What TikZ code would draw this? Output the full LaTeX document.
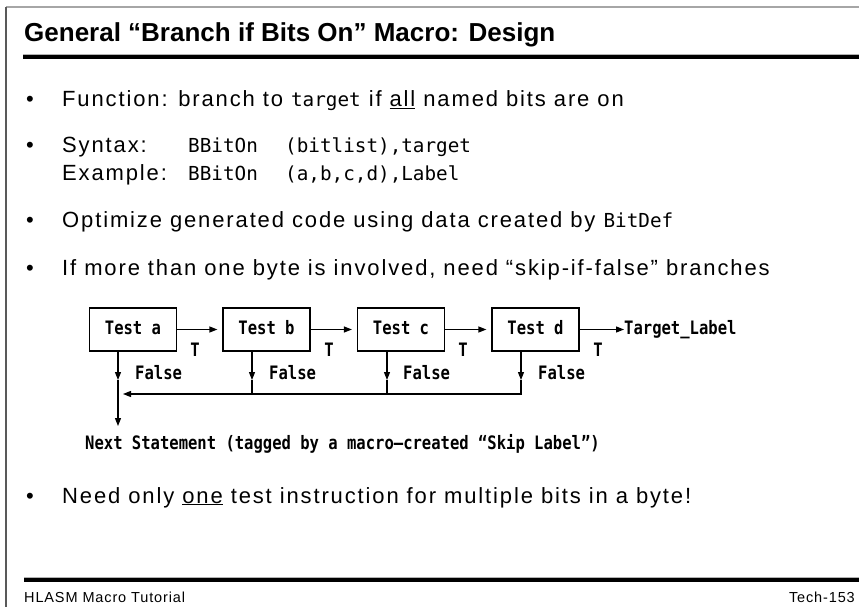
\documentclass[tikz,border=0pt]{standalone}
\usepackage{fontspec}
\setmainfont{Liberation Sans}
\newfontfamily\bodyfont[LetterSpace=8.5]{Liberation Sans}
\newfontfamily\footfont[LetterSpace=6]{Liberation Sans}
\newfontfamily\codefont{DejaVu Sans Mono}
\newfontfamily\diagfont[FakeStretch=0.84]{DejaVu Sans Mono}
\usetikzlibrary{arrows.meta,calc}
\newcommand\cd[1]{{\codefont\fontsize{19.3}{22}\selectfont #1}}
\tikzset{
  txt/.style={anchor=base west,inner sep=0pt,font=\bodyfont\fontsize{22}{26}\selectfont},
  bul/.style={anchor=base west,inner sep=0pt,font=\fontsize{22}{26}\selectfont},
  tbox/.style={draw,line width=1.2pt,minimum width=87pt,minimum height=43pt,inner sep=0pt,text height=13pt,text depth=4pt,font=\diagfont\bfseries\fontsize{18.5}{20}\selectfont},
  dlab/.style={inner sep=0pt,text height=13pt,text depth=4pt,font=\diagfont\bfseries\fontsize{18.5}{20}\selectfont},
  ln/.style={line width=1.2pt},
  arr/.style={line width=1.2pt,-{Triangle[length=8pt,width=6pt]}},
}
\begin{document}
\begin{tikzpicture}[x=1pt,y=-1pt]
\useasboundingbox (0,0) rectangle (859,607);
\fill[white] (0,0) rectangle (859,607);
% frame
\draw[gray!70,line width=1.5pt] (6,7) -- (859,7);
\draw[gray!70!black,line width=1.2pt] (6,7) -- (6,607);
% title
\node[anchor=base west,inner sep=0pt,font=\bfseries\fontsize{26}{30}\selectfont] (title) at (24,42) {General “Branch if Bits On” Macro: Design};
\fill[gray!60] (23,54) rectangle (859,55);
\fill[black] (23,55) rectangle (859,59.5);
% bullets
\node[bul] (b1) at (26,107) {•};
\node[txt] (l1) at (62,107) {Function: branch to \cd{target} if \underline{all} named bits are on};
\node[bul] (b2) at (26,153) {•};
\node[txt] (l2) at (62,153) {\makebox[126pt][l]{Syntax:}\makebox[97pt][l]{\cd{BBitOn}}\cd{(bitlist),target}};
\node[txt] (l3) at (62,180) {\makebox[126pt][l]{Example:}\makebox[97pt][l]{\cd{BBitOn}}\cd{(a,b,c,d),Label}};
\node[bul] (b3) at (26,227) {•};
\node[txt] (l4) at (62,227) {Optimize generated code using data created by \cd{BitDef}};
\node[bul] (b4) at (26,275) {•};
\node[txt] (l5) at (62,275) {If more than one byte is involved, need “skip-if-false” branches};
\node[bul] (b5) at (26,503) {•};
\node[txt] (l6) at (62,503) {Need only \underline{one} test instruction for multiple bits in a byte!};
% diagram
\node[tbox] (ta) at (133,329.5) {Test a};
\node[tbox] (tb) at (266.5,329.5) {Test b};
\node[tbox] (tc) at (401,329.5) {Test c};
\node[tbox] (td) at (535.5,329.5) {Test d};
\node[dlab,anchor=west] (tl) at (624,329.5) {Target\_Label};
\draw[arr,shorten >=5pt] (ta.east) -- (tb.west);
\draw[arr,shorten >=5pt] (tb.east) -- (tc.west);
\draw[arr,shorten >=5pt] (tc.east) -- (td.west);
\draw[arr] (td.east) -- (tl.west);
\node[dlab] (t1) at (195,352) {T};
\node[dlab] (t2) at (329,352) {T};
\node[dlab] (t3) at (463,352) {T};
\node[dlab] (t4) at (598,352) {T};
\node[dlab,anchor=west] (f1) at (135,375) {False};
\node[dlab,anchor=west] (f2) at (269,375) {False};
\node[dlab,anchor=west] (f3) at (403,375) {False};
\node[dlab,anchor=west] (f4) at (538,375) {False};
\node[dlab,anchor=base west] (ns) at (85,449) {Next Statement (tagged by a macro—created “Skip Label”)};
\coordinate (ja) at (118,380);
\coordinate (jb) at (252,380);
\coordinate (jc) at (387,380);
\coordinate (jd) at (521,380);
\coordinate (hb) at (252,394);
\coordinate (hc) at (387,394);
\coordinate (hd) at (521,394);
\coordinate (ha) at (123,394);
\coordinate (na) at (118,426);
\draw[arr] (ja |- ta.south) -- (ja);
\draw[arr] (jb |- tb.south) -- (jb);
\draw[arr] (jc |- tc.south) -- (jc);
\draw[arr] (jd |- td.south) -- (jd);
\draw[ln] (jb) -- (hb);
\draw[ln] (jc) -- (hc);
\draw[arr] (jd) -- (hd) -- (ha);
\draw[arr] (ja) -- (na);
% footer
\fill[gray!60] (24,577) rectangle (859,578);
\fill[black] (24,578) rectangle (859,582);
\node[anchor=base west,inner sep=0pt,font=\footfont\fontsize{14.5}{17}\selectfont] (fl) at (24,602) {HLASM Macro Tutorial};
\node[anchor=base east,inner sep=0pt,font=\footfont\fontsize{14.5}{17}\selectfont] (fr) at (855,602) {Tech-153};
\end{tikzpicture}
\end{document}
